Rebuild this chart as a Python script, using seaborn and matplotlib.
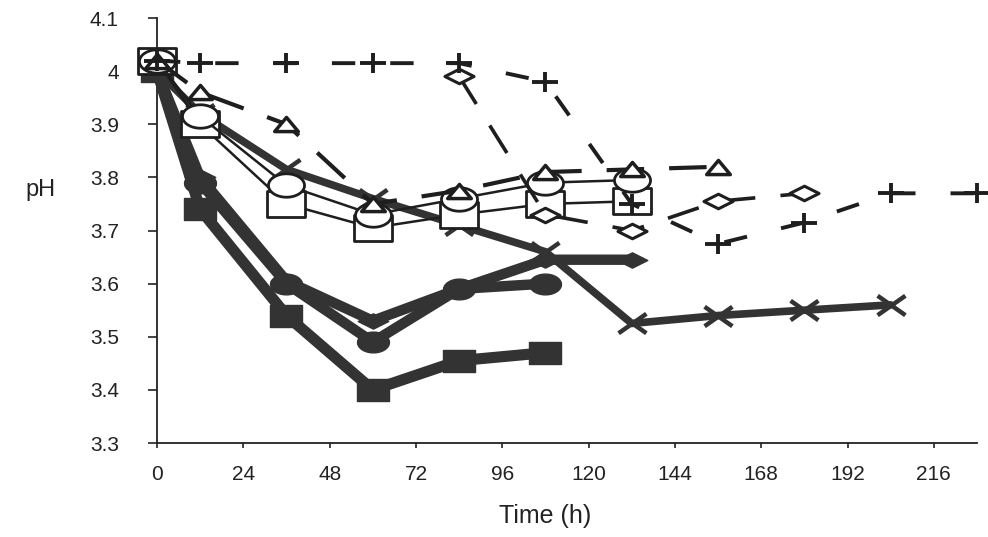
import numpy as np
import matplotlib
matplotlib.use("Agg")
import matplotlib.pyplot as plt
from matplotlib.path import Path
import seaborn as sns

# ---------------- data ----------------
time_pts = [0, 12, 36, 60, 84, 108, 132, 156, 180, 204, 228]

ph_filled_square = [4.00, 3.74, 3.54, 3.40, 3.455, 3.47]
ph_filled_circle = [4.00, 3.79, 3.60, 3.49, 3.59, 3.60]
ph_filled_diamond = [4.00, 3.80, 3.605, 3.53, 3.59, 3.645, 3.645]
ph_cross = [4.00, 3.92, 3.815, 3.76, 3.71, 3.66, 3.525, 3.54, 3.55, 3.56]
ph_open_square = [4.02, 3.90, 3.75, 3.705, 3.73, 3.75, 3.755]
ph_open_circle = [4.02, 3.915, 3.785, 3.73, 3.76, 3.79, 3.795]
ph_open_triangle = [4.02, 3.96, 3.90, 3.75, 3.775, 3.81, 3.815, 3.82]
time_open_diamond = [84, 108, 132, 156, 180]
ph_open_diamond = [3.99, 3.73, 3.70, 3.755, 3.77]
ph_plus = [4.02, 4.015, 4.015, 4.015, 4.015, 3.98, 3.75, 3.675, 3.715, 3.77, 3.77]

x_ticks = [0, 24, 48, 72, 96, 120, 144, 168, 192, 216]
y_ticks = [3.3, 3.4, 3.5, 3.6, 3.7, 3.8, 3.9, 4.0, 4.1]
y_tick_labels = ["3.3", "3.4", "3.5", "3.6", "3.7", "3.8", "3.9", "4", "4.1"]

# ---------------- marker shapes (stretched like the scan) ----------------
def poly(pts):
    pts = list(pts) + [pts[0]]
    codes = [Path.MOVETO] + [Path.LINETO] * (len(pts) - 2) + [Path.CLOSEPOLY]
    return Path(pts, codes)

m_rect = poly([(-1, -0.7), (1, -0.7), (1, 0.7), (-1, 0.7)])
th = np.linspace(0, 2 * np.pi, 40, endpoint=False)
m_ellipse = poly(list(zip(np.cos(th), 0.65 * np.sin(th))))
m_tri = poly([(-1, -0.6), (1, -0.6), (0, 0.6)])
m_diam = poly([(-1, 0), (0, 0.5), (1, 0), (0, -0.5)])
m_plus = Path([(-1, 0), (1, 0), (0, -0.75), (0, 0.75)],
              [Path.MOVETO, Path.LINETO, Path.MOVETO, Path.LINETO])
m_x = Path([(-1, -0.7), (1, 0.7), (-1, 0.7), (1, -0.7)],
           [Path.MOVETO, Path.LINETO, Path.MOVETO, Path.LINETO])

# ---------------- figure ----------------
sns.set_theme(style="white")
plt.rcParams["font.family"] = ["Liberation Sans", "DejaVu Sans"]

fig = plt.figure(figsize=(9.88, 5.37), dpi=100)
ax = fig.add_axes([157 / 988, 1 - 443 / 537, (977 - 157) / 988, (443 - 18) / 537])

dark = "#333333"
ink = "#1e1e1e"

def draw(xs, vals, marker, ms, lw, ls, color, mfc, mec, mew, z):
    sns.lineplot(x=xs, y=vals, ax=ax, estimator=None,
                 errorbar=None, sort=False, color=color, lw=lw, linestyle=ls,
                 marker=marker, markersize=ms, markerfacecolor=mfc,
                 mec=mec, mew=mew, clip_on=False, zorder=z)

def t(vals):
    return time_pts[:len(vals)]

# thick dark series
draw(t(ph_cross), ph_cross, m_x, 20, 5.5, "-", dark, "none", dark, 3.2, 3)
draw(t(ph_filled_diamond), ph_filled_diamond, m_diam, 22, 7.5, "-", dark, dark, dark, 1.0, 3)
draw(t(ph_filled_circle), ph_filled_circle, m_ellipse, 23, 7.5, "-", dark, dark, dark, 1.0, 3)
draw(t(ph_filled_square), ph_filled_square, m_rect, 23, 8.0, "-", dark, dark, dark, 1.0, 3)

# thin series with open markers
draw(t(ph_open_square), ph_open_square, m_rect, 27, 1.8, "-", ink, "white", ink, 2.0, 5)
draw(t(ph_open_circle), ph_open_circle, m_ellipse, 26, 1.8, "-", ink, "white", ink, 2.0, 5)
draw(t(ph_open_triangle), ph_open_triangle, m_tri, 17, 3.0, (0, (9, 6)), ink, "white", ink, 2.5, 6)
draw(time_open_diamond, ph_open_diamond, m_diam, 21, 2.6, (0, (9, 7)), ink, "white", ink, 2.2, 6)
draw(t(ph_plus), ph_plus, m_plus, 19, 2.8, (0, (6, 9)), ink, "none", ink, 2.8, 7)

# ---------------- axes styling ----------------
ax.set_xlim(0, 228)
ax.set_ylim(3.3, 4.1)
ax.set_xticks(x_ticks)
ax.set_xticklabels([str(v) for v in x_ticks])
ax.set_yticks(y_ticks)
ax.set_yticklabels(y_tick_labels)
for s in ["top", "right"]:
    ax.spines[s].set_visible(False)
for s in ["left", "bottom"]:
    ax.spines[s].set_color("#222222")
    ax.spines[s].set_linewidth(1.3)
ax.tick_params(axis="y", direction="out", length=6.5, width=1.2, pad=21,
               labelsize=15, colors="#222222", left=True)
ax.tick_params(axis="x", direction="out", length=3.5, width=1.2, pad=12,
               labelsize=15, colors="#222222", bottom=True)
ax.set_xlabel("")
ax.set_ylabel("")
ax.grid(False)

fig.text(40 / 988, 1 - 190 / 537, "pH", fontsize=17, ha="center", va="center",
         color="#222222")
fig.text(545 / 988, 1 - 516 / 537, "Time (h)", fontsize=18, ha="center",
         va="center", color="#222222")

fig.savefig("out.png", dpi=100)
